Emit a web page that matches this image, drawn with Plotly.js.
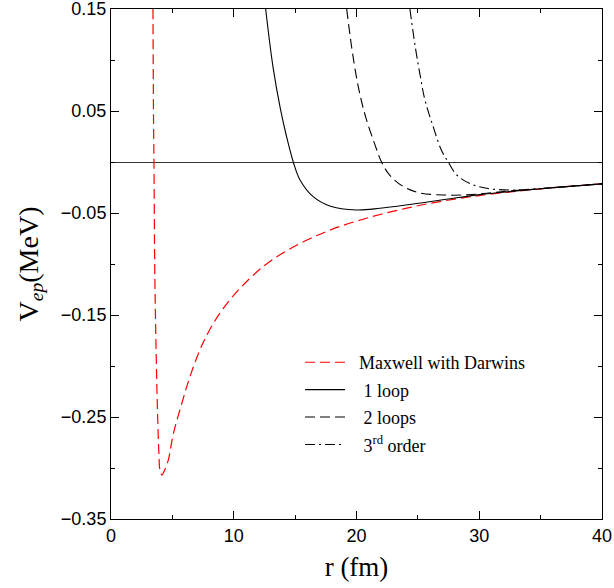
<!DOCTYPE html>
<html>
<head>
<meta charset="utf-8">
<script src="https://cdn.plot.ly/plotly-3.0.1.min.js"></script>
<style>html,body{margin:0;padding:0;background:#fff;}#chart{width:614px;height:588px;}</style>
</head>
<body>
<div id="chart"></div>
<script>
// Maxwell with Darwins
const maxwellR = [3.42, 3.46, 3.5, 3.56, 3.62, 3.7, 3.8, 3.9, 4.0, 4.15, 4.3, 4.67, 5.07, 5.76, 6.43, 7.25, 7.65, 8.3, 9.15, 10.5, 12.4, 14.3, 16.2, 18.0, 20.0, 22.0, 24.0, 26.0, 28.0, 30.0, 33.0, 36.0, 40.0];
const maxwellV = [0.15, 0.05, 0.0, -0.1, -0.15, -0.2, -0.25, -0.285, -0.303, -0.307, -0.304, -0.292, -0.267, -0.237, -0.2105, -0.184, -0.1735, -0.159, -0.1435, -0.124, -0.1025, -0.087, -0.0752, -0.066, -0.058, -0.0512, -0.0455, -0.0405, -0.0364, -0.0329, -0.0287, -0.0252, -0.0214];
// 1 loop
const loop1R = [12.6, 13.2, 13.8, 14.3, 14.85, 15.4, 16.47, 17.83, 20.0, 21.9, 24.6, 27.3, 30.05, 33.0, 36.0, 40.0];
const loop1V = [0.15, 0.093, 0.052, 0.025, 0.0, -0.0176, -0.034, -0.0431, -0.047, -0.0454, -0.0412, -0.0366, -0.032, -0.0285, -0.0251, -0.0214];
// 2 loops
const loop2R = [19.2, 19.6, 20.0, 20.4, 20.8, 21.5, 22.04, 22.7, 23.8, 25.16, 27.3, 29.0, 30.6, 32.5, 36.0, 40.0];
const loop2V = [0.15, 0.113, 0.083, 0.060, 0.042, 0.017, 0.0, -0.0128, -0.024, -0.0303, -0.0324, -0.0322, -0.0307, -0.0284, -0.0252, -0.0214];
// 3rd order
const ord3R = [24.35, 24.8, 25.2, 25.57, 26.25, 26.9, 27.47, 28.15, 29.2, 30.6, 32.5, 34.1, 36.0, 40.0];
const ord3V = [0.15, 0.112, 0.084, 0.061, 0.0346, 0.012, 0.0, -0.0125, -0.0209, -0.0258, -0.0275, -0.0268, -0.0252, -0.0214];

const names = ['\u00a0\u00a0Maxwell with Darwins', '\u00a0\u00a0\u00a01 loop', '\u00a0\u00a0\u00a02 loops', '\u00a0\u00a0\u00a03<sup>rd</sup> order'];

const traces = [
  {x: maxwellR, y: maxwellV, name: names[0], legendgroup: 'a', mode: 'lines',
   line: {color: '#ff0000', width: 1.2, dash: '10px,5px', shape: 'spline', smoothing: 1.0}},
  {x: loop1R, y: loop1V, name: names[1], legendgroup: 'b', mode: 'lines',
   line: {color: '#000', width: 1.1, dash: 'solid', shape: 'spline', smoothing: 1.0}},
  {x: loop2R, y: loop2V, name: names[2], legendgroup: 'c', mode: 'lines',
   line: {color: '#000', width: 1.1, dash: '10px,5px', shape: 'spline', smoothing: 1.0}},
  {x: ord3R, y: ord3V, name: names[3], legendgroup: 'd', mode: 'lines',
   line: {color: '#000', width: 1.1, dash: '10px,4px,2px,4px', shape: 'spline', smoothing: 1.0}}
];

const tickFont = {family: 'Liberation Sans, Arial, sans-serif', size: 18, color: '#000'};
const serif = 'Liberation Serif, Times New Roman, serif';
const layout = {
  width: 614, height: 588,
  margin: {l: 111, r: 12, t: 9, b: 69},
  paper_bgcolor: '#fff', plot_bgcolor: '#fff',
  showlegend: true,
  legend: {x: 0.385, y: 0.343, xanchor: 'left', yanchor: 'top',
    font: {family: serif, size: 18, color: '#000'},
    traceorder: 'grouped', tracegroupgap: 1, bgcolor: 'rgba(0,0,0,0)', itemwidth: 40},
  xaxis: {range: [0, 40], tickvals: [0, 10, 20, 30, 40], ticks: 'inside', ticklen: 8,
    tickcolor: '#000', showline: true, linecolor: '#000', linewidth: 1, mirror: 'allticks',
    showgrid: false, zeroline: false, tickfont: tickFont, ticklabeloverflow: 'allow',
    minor: {tickvals: [5, 15, 25, 35], ticks: 'inside', ticklen: 4, tickcolor: '#000', showgrid: false},
    title: {text: 'r (fm)', font: {family: serif, size: 27, color: '#000'}, standoff: 12}},
  yaxis: {range: [-0.35, 0.15], tickvals: [0.15, 0.05, -0.05, -0.15, -0.25, -0.35], tickformat: '.2f',
    ticks: 'inside', ticklen: 8, tickcolor: '#000', showline: true, linecolor: '#000', linewidth: 1, mirror: 'allticks',
    showgrid: false, zeroline: true, zerolinecolor: '#333', zerolinewidth: 1, tickfont: tickFont, ticklabeloverflow: 'allow',
    minor: {tickvals: [0.1, 0.0, -0.1, -0.2, -0.3], ticks: 'inside', ticklen: 4, tickcolor: '#000', showgrid: false},
    title: {text: 'V<sub><i>ep</i></sub>(MeV)', font: {family: serif, size: 28, color: '#000'}, standoff: 14}}
};

Plotly.newPlot('chart', traces, layout, {displayModeBar: false, staticPlot: true});
</script>
</body>
</html>
